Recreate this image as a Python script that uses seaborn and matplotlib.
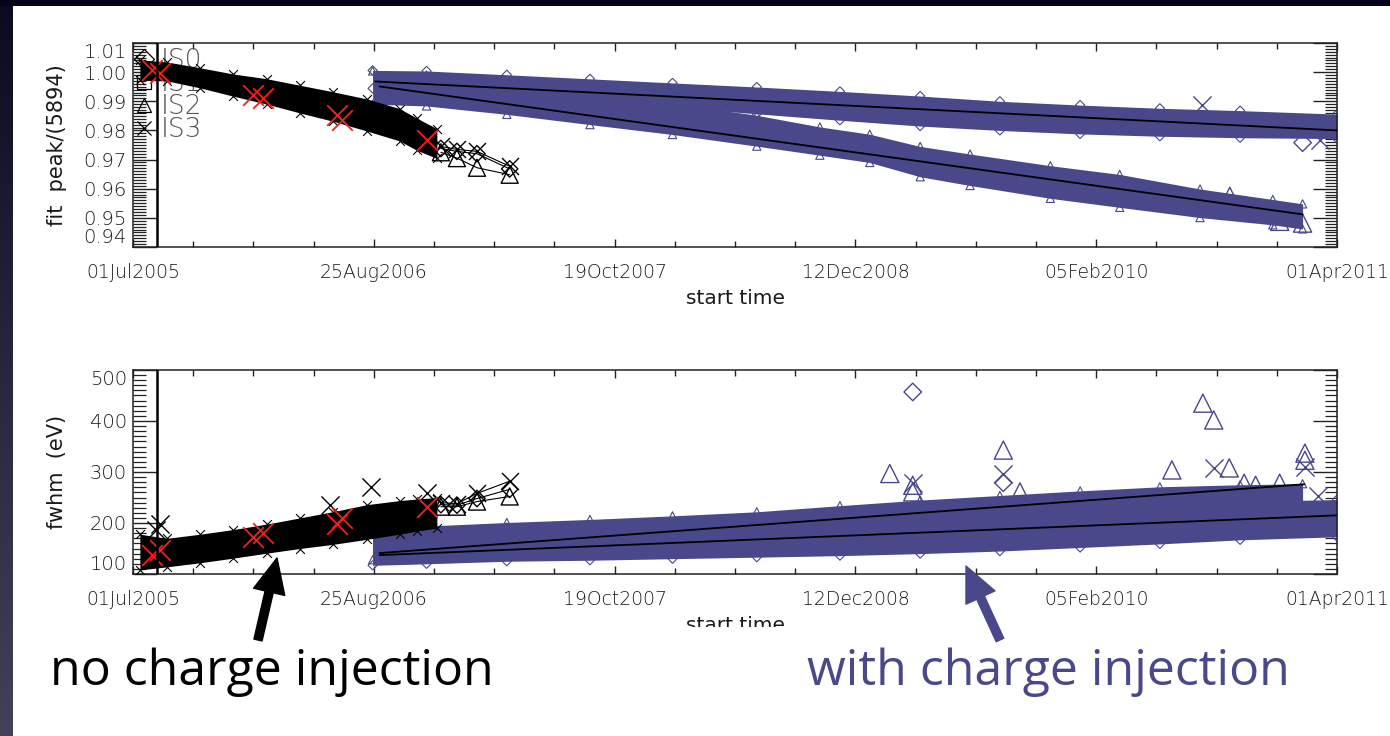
import pandas as pd
import numpy as np
import matplotlib
matplotlib.use("Agg")
import matplotlib.pyplot as plt
import matplotlib.dates as mdates
from matplotlib.lines import Line2D
from matplotlib.patches import Rectangle, FancyArrowPatch
from matplotlib.ticker import MultipleLocator, FixedLocator, FormatStrFormatter
from matplotlib.colors import LinearSegmentedColormap
import seaborn as sns

sns.set_style("white")
plt.rcParams['font.family'] = ['DejaVu Sans']
plt.rcParams['font.weight'] = 'light'

BLUE = '#48488a'
RED = '#ff1a1a'

# ---------------- data ----------------

# no charge injection: dense band (envelope)
noci_dates = pd.to_datetime(['2005-07-13', '2005-08-29', '2005-10-26', '2005-12-22', '2006-02-20', '2006-04-18',
                             '2006-06-14', '2006-08-13', '2006-10-09', '2006-11-08', '2006-12-13'])
noci_peak_hi = [1.0042, 1.0035, 1.0015, 0.9994, 0.9977, 0.9955, 0.9933, 0.9908, 0.9875, 0.9842, 0.9806]
noci_peak_lo = [0.9972, 0.9970, 0.9946, 0.9918, 0.9890, 0.9860, 0.9832, 0.9798, 0.9764, 0.9732, 0.9704]
noci_fwhm_hi = [178, 170, 178, 187, 198, 210, 222, 236, 244, 247, 250]
noci_fwhm_lo = [108, 114, 122, 131, 141, 150, 158, 168, 178, 184, 190]

# no charge injection: isolated high fwhm points
spike_dates = pd.to_datetime(['2005-08-10', '2005-08-17', '2006-06-10', '2006-08-20', '2006-11-25'])
spike_fwhm = [186, 199, 236, 270, 258]

# no charge injection: last few observations (three sensors)
tail_dates = pd.to_datetime(['2006-12-20', '2007-01-17', '2007-02-21', '2007-04-19'])
tail_peak_x = [0.9745, 0.9735, 0.9728, 0.9677]
tail_peak_d = [0.9738, 0.9728, 0.9720, 0.9668]
tail_peak_t = [0.9725, 0.9705, 0.9672, 0.9648]
tail_fwhm_x = [240, 238, 258, 282]
tail_fwhm_d = [236, 235, 248, 266]
tail_fwhm_t = [232, 232, 242, 252]

# red calibration points
red_dates = pd.to_datetime(['2005-08-03', '2005-08-17', '2006-01-26', '2006-02-13',
                            '2006-06-22', '2006-06-30', '2006-11-26'])
red_peak = [1.0008, 0.9998, 0.9923, 0.9912, 0.9854, 0.9837, 0.9768]
red_fwhm = [137, 147, 173, 180, 199, 209, 232]

# with charge injection: sensor group A (diamonds / crosses)
ci_a_dates = pd.to_datetime(['2006-08-23', '2006-11-25', '2007-04-14', '2007-09-06', '2008-01-28', '2008-06-23',
                             '2008-11-15', '2009-04-04', '2009-08-21', '2010-01-08', '2010-05-27', '2010-10-14',
                             '2011-04-01'])
ci_a_peak_hi = [1.0006, 1.0004, 0.9991, 0.9977, 0.9963, 0.9949, 0.9934, 0.9918, 0.9900, 0.9887, 0.9876, 0.9868, 0.9856]
ci_a_peak_lo = [0.9944, 0.9940, 0.9932, 0.9905, 0.9880, 0.9857, 0.9835, 0.9815, 0.9800, 0.9788, 0.9780, 0.9775, 0.9772]
ci_a_fwhm_hi = [182, 186, 191, 196, 201, 207, 213, 219, 225, 231, 237, 242, 246]
ci_a_fwhm_lo = [117, 120, 125, 127, 130, 133, 136, 140, 145, 152, 159, 167, 173]

# with charge injection: sensor group B (triangles)
ci_b_peak_dates = pd.to_datetime(['2006-08-23', '2006-11-25', '2007-04-14', '2007-09-06', '2008-01-28',
                                  '2008-06-23', '2008-10-11', '2009-01-06', '2009-04-04', '2009-06-30',
                                  '2009-11-17', '2010-03-18', '2010-08-05', '2010-12-10', '2011-01-31'])
ci_b_peak_hi = [1.0004, 0.9990, 0.9948, 0.9922, 0.9893, 0.9852, 0.9812, 0.9787, 0.9745, 0.9719,
                0.9679, 0.9649, 0.9599, 0.9563, 0.9548]
ci_b_peak_lo = [0.9890, 0.9884, 0.9855, 0.9820, 0.9786, 0.9746, 0.9715, 0.9690, 0.9641, 0.9611,
                0.9567, 0.9536, 0.9501, 0.9476, 0.9462]
ci_b_fwhm_dates = pd.to_datetime(['2006-08-23', '2006-11-25', '2007-04-14', '2007-09-06', '2008-01-28', '2008-06-23',
                                  '2008-11-15', '2009-04-04', '2009-08-21', '2010-01-08', '2010-05-27', '2010-10-14',
                                  '2011-01-31'])
ci_b_fwhm_hi = [188, 194, 201, 207, 214, 222, 234, 245, 254, 263, 271, 275, 277]
ci_b_fwhm_lo = [128, 132, 138, 146, 154, 162, 172, 180, 190, 198, 206, 212, 216]

# with charge injection: outliers
out_peak_t_dates = pd.to_datetime(['2010-09-26', '2010-12-22', '2011-01-31'])
out_peak_t = [0.9574, 0.9488, 0.9482]
out_peak_x_dates = pd.to_datetime(['2010-08-08', '2011-03-02'])
out_peak_x = [0.9888, 0.9768]
out_peak_d_dates = pd.to_datetime(['2011-01-31'])
out_peak_d = [0.9758]

out_fwhm_t_dates = pd.to_datetime(['2009-02-10', '2009-03-22', '2009-03-22', '2009-08-27', '2009-09-25',
                                   '2010-06-17', '2010-08-10', '2010-08-29', '2010-09-25', '2010-10-21',
                                   '2010-11-10', '2010-12-22', '2011-02-04', '2011-02-04'])
out_fwhm_t = [297, 274, 261, 343, 261, 304, 435, 402, 308, 278, 274, 278, 337, 323]
out_fwhm_x_dates = pd.to_datetime(['2009-03-22', '2009-08-27', '2010-08-29', '2011-02-04', '2011-02-27'])
out_fwhm_x = [278, 297, 308, 310, 252]
out_fwhm_d_dates = pd.to_datetime(['2009-03-22', '2009-08-27'])
out_fwhm_d = [457, 279]

# linear fits (charge injection)
fit_a_peak_dates = pd.to_datetime(['2006-08-27', '2011-04-01'])
fit_a_peak = [0.9968, 0.9800]
fit_b_peak_dates = pd.to_datetime(['2006-09-04', '2011-01-31'])
fit_b_peak = [0.9951, 0.9512]
fit_a_fwhm_dates = pd.to_datetime(['2006-09-04', '2011-04-01'])
fit_a_fwhm = [137, 215]
fit_b_fwhm_dates = pd.to_datetime(['2006-09-04', '2011-02-03'])
fit_b_fwhm = [141, 276]

marker_date = pd.Timestamp('2005-08-12')

legend_labels = ['IS0', 'IS1', 'IS2', 'IS3']
legend_markers = ['D', 's', '^', 'x']

peak_ticks = [0.94, 0.95, 0.96, 0.97, 0.98, 0.99, 1.00, 1.01]
fwhm_ticks = [100, 200, 300, 400, 500]
date_ticks = pd.date_range('2005-07-01', periods=6, freq='420D')
date_minor = pd.date_range('2005-07-01', '2011-04-01', freq='105D')


def marks(ax, dates, vals, marker, color, size, lw=1.0, z=3):
    kw = dict(x=dates, y=vals, ax=ax, marker=marker, s=size, linewidth=lw, zorder=z, legend=False)
    if marker in ('x', '+'):
        sns.scatterplot(color=color, **kw)
    else:
        sns.scatterplot(color=color, facecolor='none', edgecolor=color, **kw)


def band(ax, dates, lo, hi, color, marker, size, z):
    # overlapping symbols read as a solid band; small symbols roughen the edges
    ax.fill_between(dates, lo, hi, color=color, lw=0, zorder=z)
    marks(ax, dates, hi, marker, color, size, lw=0.8, z=z)
    marks(ax, dates, lo, marker, color, size, lw=0.8, z=z)


# ---------------- figure ----------------
W, H = 1390, 736
fig = plt.figure(figsize=(W / 100, H / 100), dpi=100)


def box(x0, y0, x1, y1):
    return [x0 / W, 1 - y1 / H, (x1 - x0) / W, (y1 - y0) / H]


ax1 = fig.add_axes(box(133, 43, 1337, 247))
ax2 = fig.add_axes(box(133, 370, 1337, 574))

# top panel: fit peak
band(ax1, ci_b_peak_dates, ci_b_peak_lo, ci_b_peak_hi, BLUE, '^', 35, 2)
band(ax1, ci_a_dates, ci_a_peak_lo, ci_a_peak_hi, BLUE, 'D', 22, 2.1)
marks(ax1, out_peak_t_dates, out_peak_t, '^', BLUE, 170, z=2.2)
marks(ax1, out_peak_x_dates, out_peak_x, 'x', BLUE, 170, z=2.2)
marks(ax1, out_peak_d_dates, out_peak_d, 'D', BLUE, 80, z=2.2)
sns.lineplot(x=fit_a_peak_dates, y=fit_a_peak, ax=ax1, color='black', lw=1.3, zorder=4)
sns.lineplot(x=fit_b_peak_dates, y=fit_b_peak, ax=ax1, color='black', lw=1.3, zorder=4)

band(ax1, noci_dates, noci_peak_lo, noci_peak_hi, 'black', 'x', 40, 3)
for vals, mk in [(tail_peak_x, 'x'), (tail_peak_d, 'D'), (tail_peak_t, '^')]:
    sns.lineplot(x=tail_dates, y=vals, ax=ax1, color='black', lw=0.8, zorder=3)
    marks(ax1, tail_dates, vals, mk, 'black', 150 if mk != 'D' else 70, z=3)
marks(ax1, red_dates, red_peak, 'x', RED, 220, lw=1.3, z=3.5)

# bottom panel: fwhm
band(ax2, ci_b_fwhm_dates, ci_b_fwhm_lo, ci_b_fwhm_hi, BLUE, '^', 35, 2)
band(ax2, ci_a_dates, ci_a_fwhm_lo, ci_a_fwhm_hi, BLUE, 'D', 22, 2.1)
marks(ax2, out_fwhm_t_dates, out_fwhm_t, '^', BLUE, 170, z=2.2)
marks(ax2, out_fwhm_x_dates, out_fwhm_x, 'x', BLUE, 170, z=2.2)
marks(ax2, out_fwhm_d_dates, out_fwhm_d, 'D', BLUE, 80, z=2.2)
sns.lineplot(x=fit_a_fwhm_dates, y=fit_a_fwhm, ax=ax2, color='black', lw=1.3, zorder=4)
sns.lineplot(x=fit_b_fwhm_dates, y=fit_b_fwhm, ax=ax2, color='black', lw=1.3, zorder=4)

band(ax2, noci_dates, noci_fwhm_lo, noci_fwhm_hi, 'black', 'x', 40, 3)
marks(ax2, spike_dates, spike_fwhm, 'x', 'black', 170, z=3)
for vals, mk in [(tail_fwhm_x, 'x'), (tail_fwhm_d, 'D'), (tail_fwhm_t, '^')]:
    sns.lineplot(x=tail_dates, y=vals, ax=ax2, color='black', lw=0.8, zorder=3)
    marks(ax2, tail_dates, vals, mk, 'black', 150 if mk != 'D' else 70, z=3)
marks(ax2, red_dates, red_fwhm, 'x', RED, 220, lw=1.3, z=3.5)

# axes styling
for ax in (ax1, ax2):
    ax.axvline(marker_date, color='black', lw=1.8, zorder=5)
    ax.set_xlim(pd.Timestamp('2005-07-01'), pd.Timestamp('2011-04-01'))
    ax.xaxis.set_major_locator(FixedLocator(mdates.date2num(date_ticks)))
    ax.xaxis.set_minor_locator(FixedLocator(mdates.date2num(date_minor)))
    ax.xaxis.set_major_formatter(mdates.DateFormatter('%d%b%Y'))
    ax.tick_params(axis='x', which='major', direction='in', length=6, width=1, top=True, bottom=True,
                   pad=11.5, labelsize=13.5, labelcolor='#1a1a1a', color='#222222')
    ax.tick_params(axis='x', which='minor', direction='in', length=4, width=1, top=True, bottom=True,
                   color='#222222')
    ax.tick_params(axis='y', which='major', direction='in', length=17, width=1, left=True, right=True,
                   pad=4.5, labelsize=14, labelcolor='#1a1a1a', color='#222222')
    ax.tick_params(axis='y', which='minor', direction='in', length=9, width=0.9, left=True, right=True,
                   color='#222222')
    for sp in ax.spines.values():
        sp.set_color('#222222')
        sp.set_linewidth(1.1)
    ax.set_xlabel('start time', fontsize=14.5, color='#1a1a1a')
    ax.xaxis.set_label_coords(0.5, -0.205)
    ax.grid(False)

ax1.set_ylim(0.94, 1.01)
ax1.yaxis.set_major_locator(FixedLocator(peak_ticks))
ax1.yaxis.set_minor_locator(MultipleLocator(0.001))
ax1.yaxis.set_major_formatter(FormatStrFormatter('%.2f'))
ax1.set_ylabel('fit  peak/(5894)', fontsize=15, color='#1a1a1a')
ax1.yaxis.set_label_coords(-0.055, 0.5)

ax2.set_ylim(100, 500)
ax2.yaxis.set_major_locator(FixedLocator(fwhm_ticks))
ax2.yaxis.set_minor_locator(MultipleLocator(10))
ax2.yaxis.set_major_formatter(FormatStrFormatter('%d'))
ax2.set_ylabel('fwhm  (eV)', fontsize=15, color='#1a1a1a')
ax2.yaxis.set_label_coords(-0.055, 0.5)

for ax in (ax1, ax2):
    labs = ax.get_yticklabels()
    labs[0].set_va('bottom')
    labs[-1].set_va('top')

# sensor key (drawn under the data, as on the slide)
handles = [Line2D([], [], ls='none', marker=m, color='black', mfc='none', ms=10, mew=0.9)
           for m in legend_markers]
leg = ax1.legend(handles, legend_labels, loc='upper left', bbox_to_anchor=(0.0, 0.975), frameon=False,
                 fontsize=19, labelcolor='#555555', handlelength=0.8, handletextpad=0.25,
                 labelspacing=-0.08, borderpad=0, borderaxespad=0)
leg.set_zorder(1.5)

# slide decorations
fig.add_artist(Rectangle((0, 0), 1, 1 - 627 / H, transform=fig.transFigure,
                         facecolor='white', edgecolor='none', zorder=1))
fig.text(50 / W, 1 - 685 / H, 'no charge injection', fontsize=36, family='Open Sans',
         fontweight='normal', color='black', va='baseline', zorder=3)
fig.text(807 / W, 1 - 685 / H, 'with charge injection', fontsize=36, family='Open Sans',
         fontweight='normal', color=BLUE, va='baseline', zorder=3)
arrow_style = 'simple,head_length=1.25,head_width=1.15,tail_width=0.3'
fig.add_artist(FancyArrowPatch(posA=(258 / W, 1 - 640 / H), posB=(277 / W, 1 - 558 / H),
                               transform=fig.transFigure, arrowstyle=arrow_style, mutation_scale=20,
                               color='black', shrinkA=0, shrinkB=0, zorder=3))
fig.add_artist(FancyArrowPatch(posA=(1000 / W, 1 - 640 / H), posB=(966 / W, 1 - 566 / H),
                               transform=fig.transFigure, arrowstyle=arrow_style, mutation_scale=20,
                               color=BLUE, shrinkA=0, shrinkB=0, zorder=3))

edge = fig.add_axes([0, 0, 13 / W, 1])
edge.imshow(np.linspace(0, 1, 256)[:, None], aspect='auto',
            cmap=LinearSegmentedColormap.from_list('edge', ['#0a0a20', '#26263f', '#41415a']))
edge.axis('off')
edge.set_zorder(10)
fig.add_artist(Rectangle((0, 1 - 6 / H), 1, 6 / H, transform=fig.transFigure,
                         facecolor='#05031a', edgecolor='none', zorder=11))

fig.savefig('out.png', dpi=100)
